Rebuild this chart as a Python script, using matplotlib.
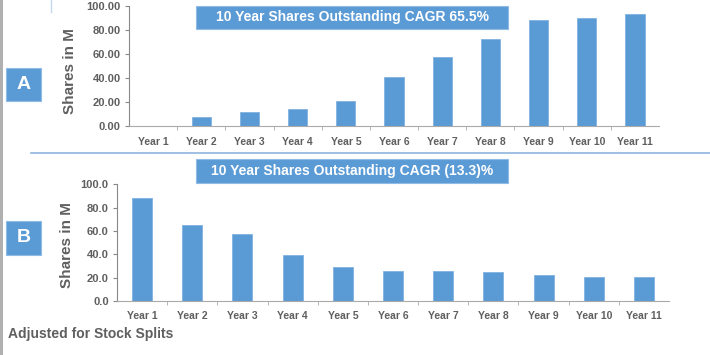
import matplotlib.pyplot as plt
from matplotlib.patches import Rectangle
from matplotlib.lines import Line2D
import numpy as np

years = ['Year 1', 'Year 2', 'Year 3', 'Year 4', 'Year 5', 'Year 6',
         'Year 7', 'Year 8', 'Year 9', 'Year 10', 'Year 11']
shares_a = [0.0, 7.7, 11.6, 14.1, 21.0, 41.3, 57.2, 72.7, 88.6, 90.2, 93.0]
shares_b = [88.5, 65.4, 57.1, 39.4, 28.9, 26.0, 25.7, 24.9, 22.3, 20.8, 20.6]
title_a = '10 Year Shares Outstanding CAGR 65.5%'
title_b = '10 Year Shares Outstanding CAGR (13.3)%'

W, H = 710, 355
blue = '#5b9bd5'
grey = '#5f5f5f'
plt.rcParams['font.family'] = ['Liberation Sans', 'DejaVu Sans']

fig = plt.figure(figsize=(W / 100, H / 100), dpi=100)


def px(x0, y0, x1, y1):
    # pixel box (top-left origin) -> figure fraction rect
    return [x0 / W, 1 - y1 / H, (x1 - x0) / W, (y1 - y0) / H]


def draw_panel(rect, values, fmt, ylabel_xy, xpad):
    ax = fig.add_axes(rect)
    x = np.arange(len(years))
    ax.bar(x, values, width=0.4, color=blue, edgecolor='#7fb2e0', linewidth=0.6)
    ax.set_xlim(-0.5, len(years) - 0.5)
    ax.set_ylim(0, 100)
    ax.set_yticks(np.arange(0, 101, 20))
    ax.set_yticklabels([fmt.format(v) for v in range(0, 101, 20)],
                       fontsize=8, fontweight='bold', color=grey)
    ax.set_xticks(x)
    ax.set_xticklabels(years, fontsize=7.5, fontweight='bold', color=grey)
    ax.tick_params(axis='x', length=0, pad=xpad)
    ax.set_xticks(np.arange(0.5, len(years) - 0.5, 1), minor=True)
    ax.tick_params(axis='x', which='minor', length=3, color='#aaaaaa')
    ax.tick_params(axis='y', length=3, color='#888888', pad=3)
    for s in ['top', 'right']:
        ax.spines[s].set_visible(False)
    ax.spines['left'].set_color('#888888')
    ax.spines['bottom'].set_color('#aaaaaa')
    ax.spines['left'].set_linewidth(0.8)
    ax.spines['bottom'].set_linewidth(0.8)
    fig.text(ylabel_xy[0] / W, 1 - ylabel_xy[1] / H, 'Shares in M', rotation=90,
             ha='center', va='center', fontsize=11, fontweight='bold', color=grey)
    return ax


draw_panel(px(129, 6, 659, 126.3), shares_a, '{:.2f}', (70, 71), 8)
draw_panel(px(117, 184.3, 669, 301), shares_b, '{:.1f}', (67, 245), 7)


def label_box(x0, y0, x1, y1, text, size):
    r = px(x0, y0, x1, y1)
    fig.patches.append(Rectangle((r[0], r[1]), r[2], r[3], transform=fig.transFigure,
                                 facecolor=blue, edgecolor='#8fbbe6', linewidth=0.8))
    fig.text(r[0] + r[2] / 2, r[1] + r[3] / 2, text, ha='center', va='center',
             color='white', fontsize=size, fontweight='bold')


label_box(196, 6, 508, 29, title_a, 10)
label_box(196, 159.3, 508, 182.7, title_b, 10)
label_box(6, 68.3, 41, 100.7, 'A', 14)
label_box(6, 221, 41, 255, 'B', 14)

# decorative lines
fig.lines.append(Line2D([31 / W, 1], [1 - 153 / H] * 2, transform=fig.transFigure,
                        color='#8fb4de', linewidth=1.2))
fig.lines.append(Line2D([51 / W] * 2, [1, 1 - 12 / H], transform=fig.transFigure,
                        color='#c5daf0', linewidth=1.0))
fig.patches.append(Rectangle((0, 0), 3 / W, 1, transform=fig.transFigure,
                             facecolor='#b0b0b0', edgecolor='none'))

fig.text(8 / W, 1 - 334 / H, 'Adjusted for Stock Splits', ha='left', va='center',
         fontsize=10, fontweight='bold', color=grey)

fig.savefig('out.png', dpi=100)
